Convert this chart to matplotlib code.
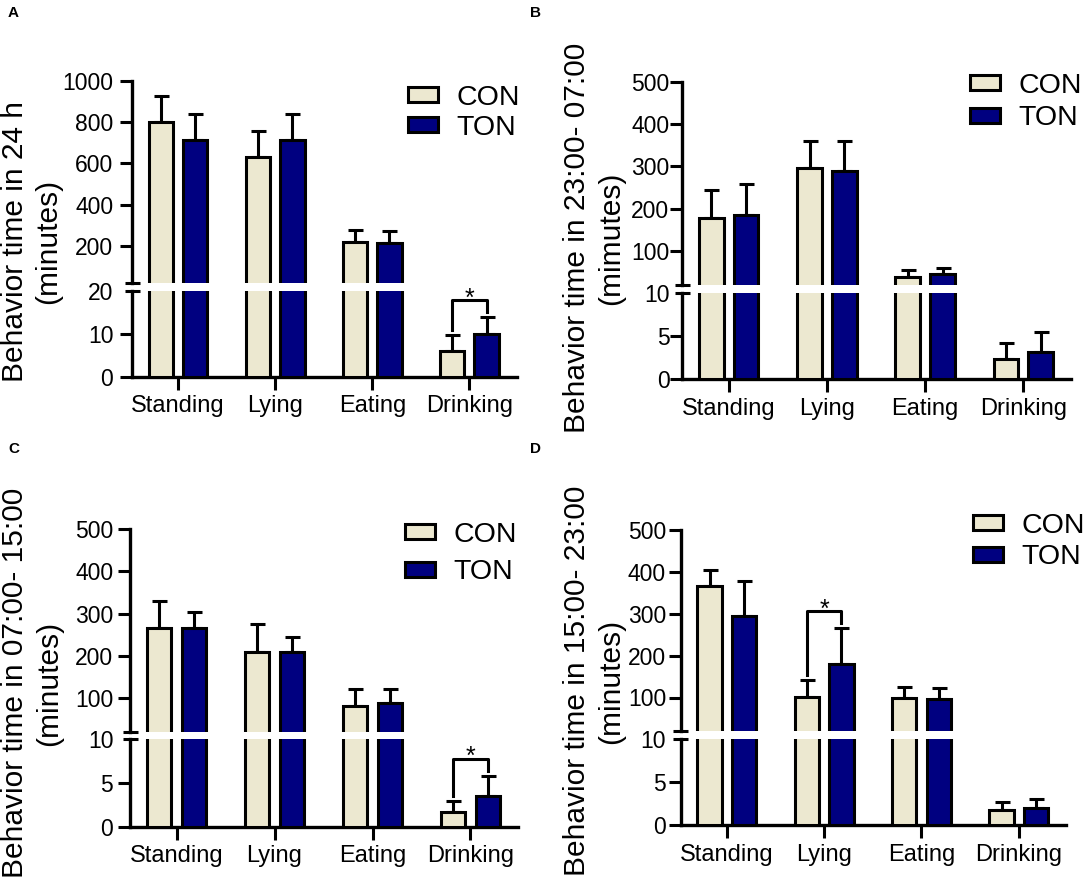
import numpy as np
import matplotlib
matplotlib.use('Agg')
import matplotlib.pyplot as plt
from matplotlib.patches import Patch

plt.rcParams['font.family'] = ['Liberation Sans', 'DejaVu Sans']

# data (minutes, mean and upper error)
categories = ['Standing', 'Lying', 'Eating', 'Drinking']
groups = ['CON', 'TON']

# A: 24 h
con_24h = [800, 630, 221, 6.0]
con_24h_err = [125, 126, 54, 3.6]
ton_24h = [715, 715, 216, 10.0]
ton_24h_err = [125, 125, 54, 3.8]

# B: 23:00-07:00
con_night = [179, 296, 39, 2.3]
con_night_err = [65, 63, 16, 1.9]
ton_night = [185, 288, 47, 3.1]
ton_night_err = [74, 71, 13, 2.4]

# C: 07:00-15:00
con_day = [265, 208, 80, 1.7]
con_day_err = [66, 68, 41, 1.2]
ton_day = [267, 208, 88, 3.45]
ton_day_err = [37, 37, 33, 2.35]

# D: 15:00-23:00
con_eve = [366, 102, 100, 1.74]
con_eve_err = [38, 39, 24, 0.96]
ton_eve = [295, 180, 97, 2.0]
ton_eve_err = [84, 85, 25, 1.0]

ticks_24h = [200, 400, 600, 800, 1000]
ticks_8h = [100, 200, 300, 400, 500]

CON_COLOR = '#ECE8D0'
TON_COLOR = '#000080'
LW = 2.2
W, H = 1084, 881

panels = [
    dict(letter='A', letter_xy=(8, 6), con=con_24h, con_err=con_24h_err, ton=ton_24h, ton_err=ton_24h_err,
         ylabel='Behavior time in 24 h\n(minutes)', label_xy=(31.5, 241),
         x0=132, x1=516.5, top=81, up_bot=283, lo_top=290.7, bot=376.7,
         up_lim=(20, 1000), up_ticks=ticks_24h, lo_lim=(0, 20), lo_ticks=[0, 10, 20],
         ypad=5, legend_xy=(408, 85), legend_sp=0.13, sig=3),
    dict(letter='B', letter_xy=(530, 6), con=con_night, con_err=con_night_err, ton=ton_night, ton_err=ton_night_err,
         ylabel='Behavior time in 23:00- 07:00\n(mimutes)', label_xy=(594, 238),
         x0=682, x1=1071, top=81.7, up_bot=285, lo_top=293, bot=379,
         up_lim=(20, 500), up_ticks=ticks_8h, lo_lim=(0, 10), lo_ticks=[0, 5, 10],
         ypad=0.5, legend_xy=(970, 73), legend_sp=0.22, sig=None),
    dict(letter='C', letter_xy=(8, 442), con=con_day, con_err=con_day_err, ton=ton_day, ton_err=ton_day_err,
         ylabel='Behavior time in 07:00- 15:00\n(minutes)', label_xy=(32, 683),
         x0=130, x1=518, top=529.3, up_bot=731.7, lo_top=738.5, bot=826.7,
         up_lim=(20, 500), up_ticks=ticks_8h, lo_lim=(0, 10), lo_ticks=[0, 5, 10],
         ypad=3.5, legend_xy=(405, 522), legend_sp=0.4, sig=3),
    dict(letter='D', letter_xy=(530, 442), con=con_eve, con_err=con_eve_err, ton=ton_eve, ton_err=ton_eve_err,
         ylabel='Behavior time in 15:00- 23:00\n(minutes)', label_xy=(594, 681),
         x0=680.6, x1=1066, top=530, up_bot=731, lo_top=739, bot=825,
         up_lim=(20, 500), up_ticks=ticks_8h, lo_lim=(0, 10), lo_ticks=[0, 5, 10],
         ypad=2, legend_xy=(973, 513), legend_sp=0.19, sig=1),
]

x = np.arange(len(categories))
OFF = 0.177
WIDTH = 0.25


def px_box(x0, x1, ytop, ybot):
    return [x0 / W, 1 - ybot / H, (x1 - x0) / W, (ybot - ytop) / H]


def upper_errors(ax, xs, vals, errs, lim):
    # only the error bars that reach into this part of the broken axis
    vals = np.asarray(vals, float)
    errs = np.asarray(errs, float)
    show = vals + errs > lim[0] + 1e-9 if lim[0] > 0 else vals < lim[1]
    y = np.where(show, vals, np.nan)
    ax.errorbar(xs, y, yerr=[np.zeros_like(errs), errs], fmt='none', ecolor='black',
                elinewidth=LW, capsize=5.4, capthick=LW, zorder=2)


fig = plt.figure(figsize=(W / 100, H / 100), dpi=100)

for p in panels:
    ax_up = fig.add_axes(px_box(p['x0'], p['x1'], p['top'], p['up_bot']))
    ax_lo = fig.add_axes(px_box(p['x0'], p['x1'], p['lo_top'], p['bot']))

    for ax, lim in ((ax_up, p['up_lim']), (ax_lo, p['lo_lim'])):
        ax.bar(x - OFF, p['con'], WIDTH, color=CON_COLOR, edgecolor='black', linewidth=LW, zorder=3)
        ax.bar(x + OFF, p['ton'], WIDTH, color=TON_COLOR, edgecolor='black', linewidth=LW, zorder=3)
        upper_errors(ax, x - OFF, p['con'], p['con_err'], lim)
        upper_errors(ax, x + OFF, p['ton'], p['ton_err'], lim)
        ax.set_xlim(-0.475, 3.485)
        ax.spines[['top', 'right']].set_visible(False)
        ax.spines['left'].set_linewidth(2.4)
        ax.spines['bottom'].set_linewidth(2.4)
        ax.tick_params(axis='y', length=8.5, width=LW, labelsize=16.5, pad=p['ypad'])
        ax.patch.set_alpha(0)

    # upper part of the broken axis
    ax_up.set_ylim(*p['up_lim'])
    ax_up.set_yticks(p['up_ticks'])
    ax_up.spines['bottom'].set_visible(False)
    ax_up.tick_params(axis='x', bottom=False, labelbottom=False)

    # lower part
    ax_lo.set_ylim(*p['lo_lim'])
    ax_lo.set_yticks(p['lo_ticks'])
    ax_lo.yaxis.get_major_ticks()[-1].tick1line.set_visible(False)
    ax_lo.set_xticks(x, categories)
    ax_lo.tick_params(axis='x', length=9.5, width=LW, labelsize=17, pad=4)

    # break marks on the y axis
    d = 7.5 / (p['x1'] - p['x0'])
    ax_lo.plot([-d, d], [1, 1], transform=ax_lo.transAxes, color='black', lw=LW, clip_on=False,
               solid_capstyle='butt')
    ax_up.plot([-d, d], [0, 0], transform=ax_up.transAxes, color='black', lw=LW, clip_on=False,
               solid_capstyle='butt')

    # significance bracket
    if p['sig'] is not None:
        i = p['sig']
        tops = [p['con'][i] + p['con_err'][i], p['ton'][i] + p['ton_err'][i]]
        ax = ax_lo if max(tops) < p['lo_lim'][1] else ax_up
        to_px = ax.transData.transform
        from_px = ax.transData.inverted().transform
        xs = [i - OFF, i + OFF]
        legs = [to_px((xx, t))[1] + 5 for xx, t in zip(xs, tops)]
        yb = max(legs) + 12
        leg_y = [from_px((0, v))[1] for v in legs]
        yb_d = from_px((0, yb))[1]
        ax.plot([xs[0], xs[0], xs[1], xs[1]], [leg_y[0], yb_d, yb_d, leg_y[1]], color='black',
                lw=LW, solid_joinstyle='round', zorder=4, clip_on=False)
        ax.annotate('*', xy=(i, yb_d), xytext=(0, -4), textcoords='offset points',
                    ha='center', va='baseline', fontsize=18)

    # legend
    handles = [Patch(facecolor=CON_COLOR, edgecolor='black', linewidth=LW),
               Patch(facecolor=TON_COLOR, edgecolor='black', linewidth=LW)]
    lx, ly = p['legend_xy']
    fig.legend(handles, groups, loc='upper left', bbox_to_anchor=(lx / W, 1 - ly / H),
               frameon=False, fontsize=20.5, handlelength=1.04, handleheight=0.44,
               handletextpad=0.65, labelspacing=p['legend_sp'], borderpad=0, borderaxespad=0)

    # y label and panel letter
    cx, cy = p['label_xy']
    fig.text(cx / W, 1 - cy / H, p['ylabel'], rotation=90, ha='center', va='center',
             multialignment='center', fontsize=21.5, linespacing=1.25)
    lx, ly = p['letter_xy']
    fig.text(lx / W, 1 - ly / H, p['letter'], ha='left', va='top', fontsize=11, fontweight='bold')

fig.savefig('out.png', dpi=100)
